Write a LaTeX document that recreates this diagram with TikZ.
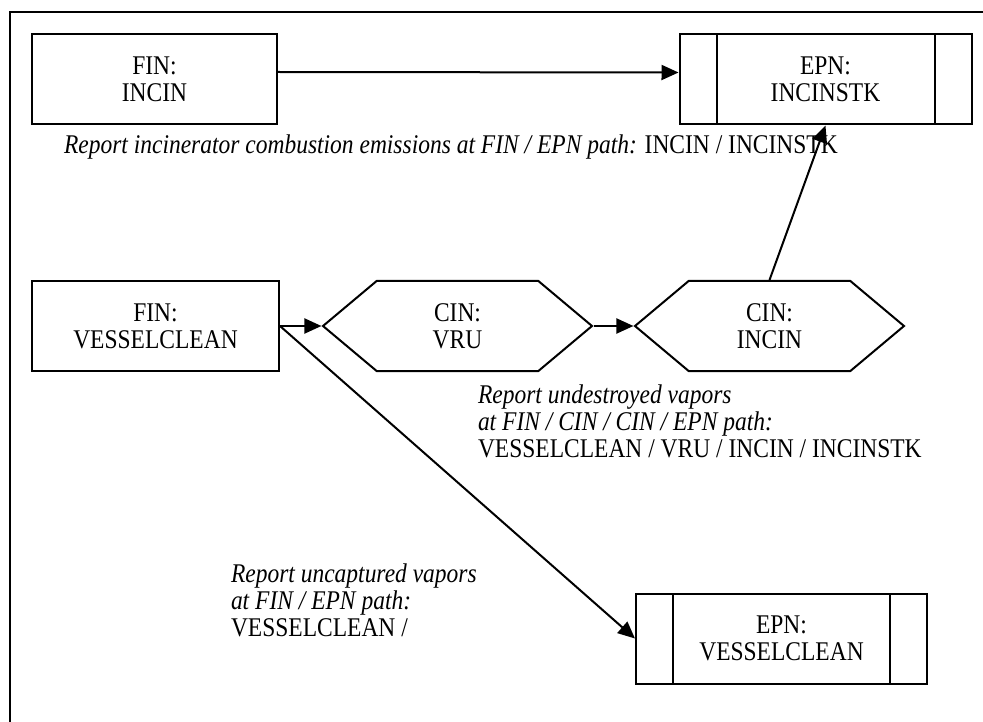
\documentclass[tikz,border=0pt]{standalone}
\usepackage{fontspec}
\setmainfont{Liberation Serif}[FakeStretch=0.87]
\usetikzlibrary{positioning,shapes.symbols,arrows.meta}

\begin{document}
\begin{tikzpicture}[x=1pt,y=-1pt,line width=2pt,font=\fontsize{27}{27}\selectfont,
finbox/.style={draw, align=center, minimum width=245pt, minimum height=90pt, inner sep=0pt},
epnbox/.style={finbox, minimum width=292pt, path picture={
  \draw ([xshift=37pt]path picture bounding box.north west) -- ([xshift=37pt]path picture bounding box.south west);
  \draw ([xshift=-37pt]path picture bounding box.north east) -- ([xshift=-37pt]path picture bounding box.south east);}},
cinhex/.style={draw, shape=signal, signal to=east and west, signal pointer angle=80, align=center, minimum width=269pt, minimum height=90pt, inner sep=0pt},
note/.style={anchor=west, align=left, inner sep=0pt},
flow/.style={-{Triangle[length=17pt,width=15pt]}}]
\useasboundingbox (0,0) rectangle (983,722);
\draw[line width=2.4pt] (10,740) |- (1000,12);

\node[finbox] (finincin) at (154.5,79) {FIN:\\INCIN};
\node[epnbox] (epnincinstk) at (825.5,79.5) {EPN:\\INCINSTK};
\node[finbox, minimum width=247pt] (finvessel) at (155.5,326) {FIN:\\VESSELCLEAN};
\node[cinhex] (cinvru) at (457.5,326) {CIN:\\VRU};
\node[cinhex] (cinincin) at (769.5,326) {CIN:\\INCIN};
\node[epnbox, minimum width=291pt] (epnvessel) at (781.5,638.5) {EPN:\\VESSELCLEAN};

\node[note] (noteincin) at (63,147) {\textit{Report incinerator combustion emissions at FIN / EPN path:} INCIN / INCINSTK};
\node[note] (noteundestroyed) at (477,421) {\textit{Report undestroyed vapors}\\\textit{at FIN / CIN / CIN / EPN path:}\\VESSELCLEAN / VRU / INCIN / INCINSTK};
\node[note] (noteuncaptured) at (230,600) {\textit{Report uncaptured vapors}\\\textit{at FIN / EPN path:}\\VESSELCLEAN /};

\draw[flow] ([yshift=7pt]finincin.east) -- ([yshift=7pt]epnincinstk.west);
\draw[flow] (finvessel.east) -- (cinvru.west);
\draw[flow] (cinvru.east) -- (cinincin.west);
\draw[flow] (cinincin.north) -- (epnincinstk.south);
\draw[flow] (finvessel.east) -- (epnvessel.west);
\end{tikzpicture}
\end{document}
